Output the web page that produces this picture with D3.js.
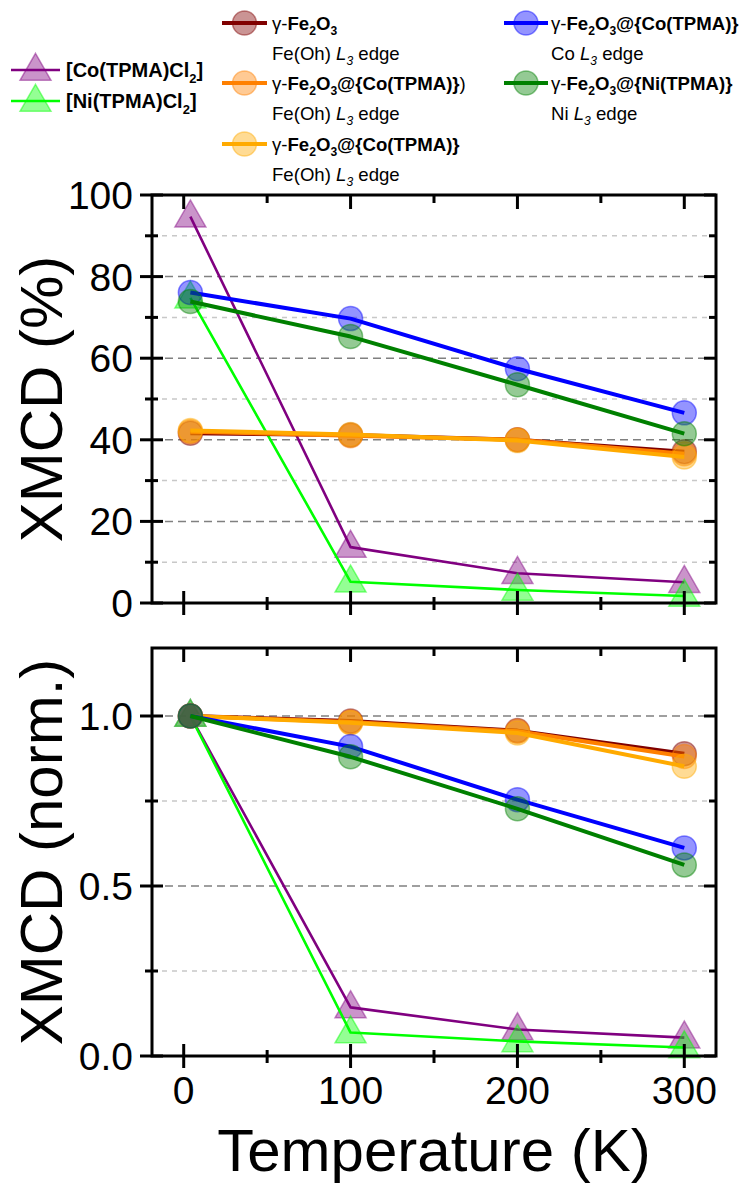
<!DOCTYPE html>
<html><head><meta charset="utf-8">
<script src="https://cdn.jsdelivr.net/npm/d3@7"></script>
<style>body{margin:0;background:#fff}svg{display:block;font-family:"Liberation Sans",Arial,sans-serif}</style>
</head><body>
<svg id="c" width="747" height="1185"></svg>
<script>
// ---------- data ----------
const temps = [4, 100, 200, 300];
const xTicks = [0, 100, 200, 300];
const xMinorTicks = [50, 150, 250];
const topYTicks = [0, 20, 40, 60, 80, 100];
const topYMinor = [10, 30, 50, 70, 90];
const botYTicks = [0, 0.5, 1.0];
const botYMinor = [0.25, 0.75];

// XMCD (%)
const coCl2Pct   = [94.7, 13.7, 7.3, 5.1];
const niCl2Pct   = [74.8, 5.2, 3.2, 1.7];
const fe2o3Pct   = [41.6, 41.2, 40.0, 37.1];
const feCoPct    = [42.0, 41.0, 40.0, 36.6];
const feCoYPct   = [42.3, 41.3, 39.8, 35.8];
const coEdgePct  = [76.1, 69.7, 57.4, 46.6];
const niEdgePct  = [73.9, 65.3, 53.5, 41.5];

// XMCD (norm.)
const coCl2Norm  = [1.0, 0.143, 0.078, 0.054];
const niCl2Norm  = [1.0, 0.069, 0.043, 0.025];
const fe2o3Norm  = [1.0, 0.985, 0.957, 0.889];
const feCoNorm   = [1.0, 0.982, 0.955, 0.881];
const feCoYNorm  = [1.0, 0.980, 0.950, 0.852];
const coEdgeNorm = [1.0, 0.910, 0.754, 0.612];
const niEdgeNorm = [1.0, 0.880, 0.727, 0.562];

const seriesNames = ["coCl2","niCl2","fe2o3","feCo","feCoY","coEdge","niEdge"];
const colors = {coCl2:"#800080", niCl2:"#00ff00", fe2o3:"#800000", feCo:"#ff8000", feCoY:"#ffaa00", coEdge:"#0000ff", niEdge:"#008000"};
const shapes = {coCl2:"tri", niCl2:"tri", fe2o3:"circ", feCo:"circ", feCoY:"circ", coEdge:"circ", niEdge:"circ"};
const widths = {coCl2:2.6, niCl2:2.6, fe2o3:4, feCo:4, feCoY:4, coEdge:4, niEdge:4};
const topData = {coCl2:coCl2Pct, niCl2:niCl2Pct, fe2o3:fe2o3Pct, feCo:feCoPct, feCoY:feCoYPct, coEdge:coEdgePct, niEdge:niEdgePct};
const botData = {coCl2:coCl2Norm, niCl2:niCl2Norm, fe2o3:fe2o3Norm, feCo:feCoNorm, feCoY:feCoYNorm, coEdge:coEdgeNorm, niEdge:niEdgeNorm};

// legend label segments
const legendLabels = {
  coCl2: [[{t:"[Co(TPMA)Cl",b:1},{t:"2",b:1,s:1},{t:"]",b:1}]],
  niCl2: [[{t:"[Ni(TPMA)Cl",b:1},{t:"2",b:1,s:1},{t:"]",b:1}]],
  fe2o3: [[{t:"γ-"},{t:"Fe",b:1},{t:"2",b:1,s:1},{t:"O",b:1},{t:"3",b:1,s:1}],
          [{t:"Fe(Oh) "},{t:"L",i:1},{t:"3",i:1,s:1},{t:" edge"}]],
  feCo:  [[{t:"γ-"},{t:"Fe",b:1},{t:"2",b:1,s:1},{t:"O",b:1},{t:"3",b:1,s:1},{t:"@{Co(TPMA)}",b:1},{t:")"}],
          [{t:"Fe(Oh) "},{t:"L",i:1},{t:"3",i:1,s:1},{t:" edge"}]],
  feCoY: [[{t:"γ-"},{t:"Fe",b:1},{t:"2",b:1,s:1},{t:"O",b:1},{t:"3",b:1,s:1},{t:"@{Co(TPMA)}",b:1}],
          [{t:"Fe(Oh) "},{t:"L",i:1},{t:"3",i:1,s:1},{t:" edge"}]],
  coEdge:[[{t:"γ-"},{t:"Fe",b:1},{t:"2",b:1,s:1},{t:"O",b:1},{t:"3",b:1,s:1},{t:"@{Co(TPMA)}",b:1}],
          [{t:"Co "},{t:"L",i:1},{t:"3",i:1,s:1},{t:" edge"}]],
  niEdge:[[{t:"γ-"},{t:"Fe",b:1},{t:"2",b:1,s:1},{t:"O",b:1},{t:"3",b:1,s:1},{t:"@{Ni(TPMA)}",b:1}],
          [{t:"Ni "},{t:"L",i:1},{t:"3",i:1,s:1},{t:" edge"}]]
};

// ---------- layout ----------
const svg = d3.select("#c");
const L = 152, R = 716;
const x = d3.scaleLinear().domain([-19, 319]).range([L, R]);
const panels = [
  {top:195, bot:603, y:d3.scaleLinear().domain([0,100]).range([603,195]), data:topData, ticks:topYTicks, minor:topYMinor, fmt:d=>d3.format("d")(d), title:"XMCD (%)"},
  {top:648, bot:1056, y:d3.scaleLinear().domain([0,1.2]).range([1056,648]), data:botData, ticks:botYTicks, minor:botYMinor, fmt:d3.format(".1f"), title:"XMCD (norm.)"}
];

function marker(g, type, cx, cy, col){
  if(type==="circ"){
    g.append("circle").attr("cx",cx).attr("cy",cy).attr("r",12)
      .attr("fill",col).attr("fill-opacity",0.42)
      .attr("stroke",col).attr("stroke-opacity",0.45).attr("stroke-width",1.5);
  } else {
    const h=27, w=31;
    g.append("path").attr("d",`M${cx},${cy-h*0.62}L${cx+w/2},${cy+h*0.38}L${cx-w/2},${cy+h*0.38}Z`)
      .attr("fill",col).attr("fill-opacity",0.42)
      .attr("stroke",col).attr("stroke-opacity",0.45).attr("stroke-width",1.5);
  }
}

panels.forEach(p=>{
  const g = svg.append("g");
  // grid
  p.minor.forEach(v=>{
    g.append("line").attr("x1",L).attr("x2",R).attr("y1",p.y(v)).attr("y2",p.y(v))
     .attr("stroke","#c8c8c8").attr("stroke-width",1.5).attr("stroke-dasharray","5,5");
  });
  p.ticks.filter(v=>p.y(v)>p.top+2 && p.y(v)<p.bot-2).forEach(v=>{
    g.append("line").attr("x1",L).attr("x2",R).attr("y1",p.y(v)).attr("y2",p.y(v))
     .attr("stroke","#808080").attr("stroke-width",1.5).attr("stroke-dasharray","8,5");
  });
  // series
  const line = d3.line().x((d,i)=>x(temps[i])).y(d=>p.y(d));
  seriesNames.forEach(n=>{
    const gs = g.append("g");
    p.data[n].forEach((v,i)=>marker(gs, shapes[n], x(temps[i]), p.y(v), colors[n]));
    gs.append("path").datum(p.data[n]).attr("d",line).attr("fill","none")
      .attr("stroke",colors[n]).attr("stroke-width",widths[n]).attr("stroke-linejoin","round");
  });
  // frame
  g.append("rect").attr("x",L).attr("y",p.top).attr("width",R-L).attr("height",p.bot-p.top)
   .attr("fill","none").attr("stroke","#000").attr("stroke-width",3);
  // bottom axis ticks (cross), top ticks (inward)
  xTicks.forEach(v=>{
    g.append("line").attr("x1",x(v)).attr("x2",x(v)).attr("y1",p.bot-12).attr("y2",p.bot+12).attr("stroke","#000").attr("stroke-width",3);
    g.append("line").attr("x1",x(v)).attr("x2",x(v)).attr("y1",p.top).attr("y2",p.top+14).attr("stroke","#000").attr("stroke-width",3);
  });
  xMinorTicks.forEach(v=>{
    g.append("line").attr("x1",x(v)).attr("x2",x(v)).attr("y1",p.bot-6).attr("y2",p.bot+7).attr("stroke","#000").attr("stroke-width",3);
    g.append("line").attr("x1",x(v)).attr("x2",x(v)).attr("y1",p.top).attr("y2",p.top+8).attr("stroke","#000").attr("stroke-width",3);
  });
  p.ticks.forEach(v=>{
    g.append("line").attr("x1",L-12).attr("x2",L+11).attr("y1",p.y(v)).attr("y2",p.y(v)).attr("stroke","#000").attr("stroke-width",3);
    g.append("line").attr("x1",R-12).attr("x2",R).attr("y1",p.y(v)).attr("y2",p.y(v)).attr("stroke","#000").attr("stroke-width",3);
    g.append("text").attr("x",133).attr("y",p.y(v)).attr("dy","0.36em").attr("text-anchor","end")
     .attr("font-size",39).text(p.fmt(v));
  });
  p.minor.forEach(v=>{
    g.append("line").attr("x1",L-7).attr("x2",L+6).attr("y1",p.y(v)).attr("y2",p.y(v)).attr("stroke","#000").attr("stroke-width",3);
    g.append("line").attr("x1",R-7).attr("x2",R).attr("y1",p.y(v)).attr("y2",p.y(v)).attr("stroke","#000").attr("stroke-width",3);
  });
  // y title
  const cy = (p.top+p.bot)/2;
  g.append("text").attr("transform",`translate(62,${cy}) rotate(-90)`).attr("text-anchor","middle")
   .attr("font-size",60).text(p.title);
});

// x tick labels & title
xTicks.forEach(v=>{
  svg.append("text").attr("x",x(v)).attr("y",1104).attr("text-anchor","middle").attr("font-size",39).text(v);
});
svg.append("text").attr("x",(L+R)/2).attr("y",1171).attr("text-anchor","middle").attr("font-size",60).text("Temperature (K)");

// ---------- legend ----------
function rich(g, x0, y0, segs, fs){
  const t = g.append("text").attr("x",x0).attr("y",y0).attr("font-size",fs);
  let sub=false;
  segs.forEach(s=>{
    const ts = t.append("tspan").text(s.t)
      .attr("font-weight", s.b?"bold":"normal").attr("font-style", s.i?"italic":"normal");
    if(s.s && !sub){ ts.attr("dy", fs*0.3).attr("font-size", fs*0.65); sub=true; }
    else if(s.s && sub){ ts.attr("font-size", fs*0.65); }
    else if(!s.s && sub){ ts.attr("dy", -fs*0.3); sub=false; }
  });
}
const legendPos = {
  coCl2:{lx:11, ly:70, w:49, tx:66, fs:20},
  niCl2:{lx:11, ly:101, w:49, tx:66, fs:20},
  fe2o3:{lx:222, ly:23, w:45, tx:272, fs:18.6},
  feCo: {lx:222, ly:83, w:45, tx:272, fs:18.6},
  feCoY:{lx:222, ly:144, w:45, tx:272, fs:18.6},
  coEdge:{lx:504, ly:23, w:44, tx:551, fs:18.6},
  niEdge:{lx:504, ly:83, w:44, tx:551, fs:18.6}
};
const lg = svg.append("g");
seriesNames.forEach(n=>{
  const q = legendPos[n];
  const gi = lg.append("g");
  const mx = q.lx + q.w/2;
  marker(gi, shapes[n], mx, q.ly, colors[n]);
  gi.append("line").attr("x1",q.lx).attr("x2",q.lx+q.w).attr("y1",q.ly).attr("y2",q.ly)
    .attr("stroke",colors[n]).attr("stroke-width",widths[n]);
  const lines = legendLabels[n];
  rich(gi, q.tx, q.ly + q.fs*0.36, lines[0], q.fs);
  if(lines[1]) rich(gi, q.tx, q.ly + q.fs*0.36 + 30, lines[1], q.fs);
});
</script>
</body></html>
